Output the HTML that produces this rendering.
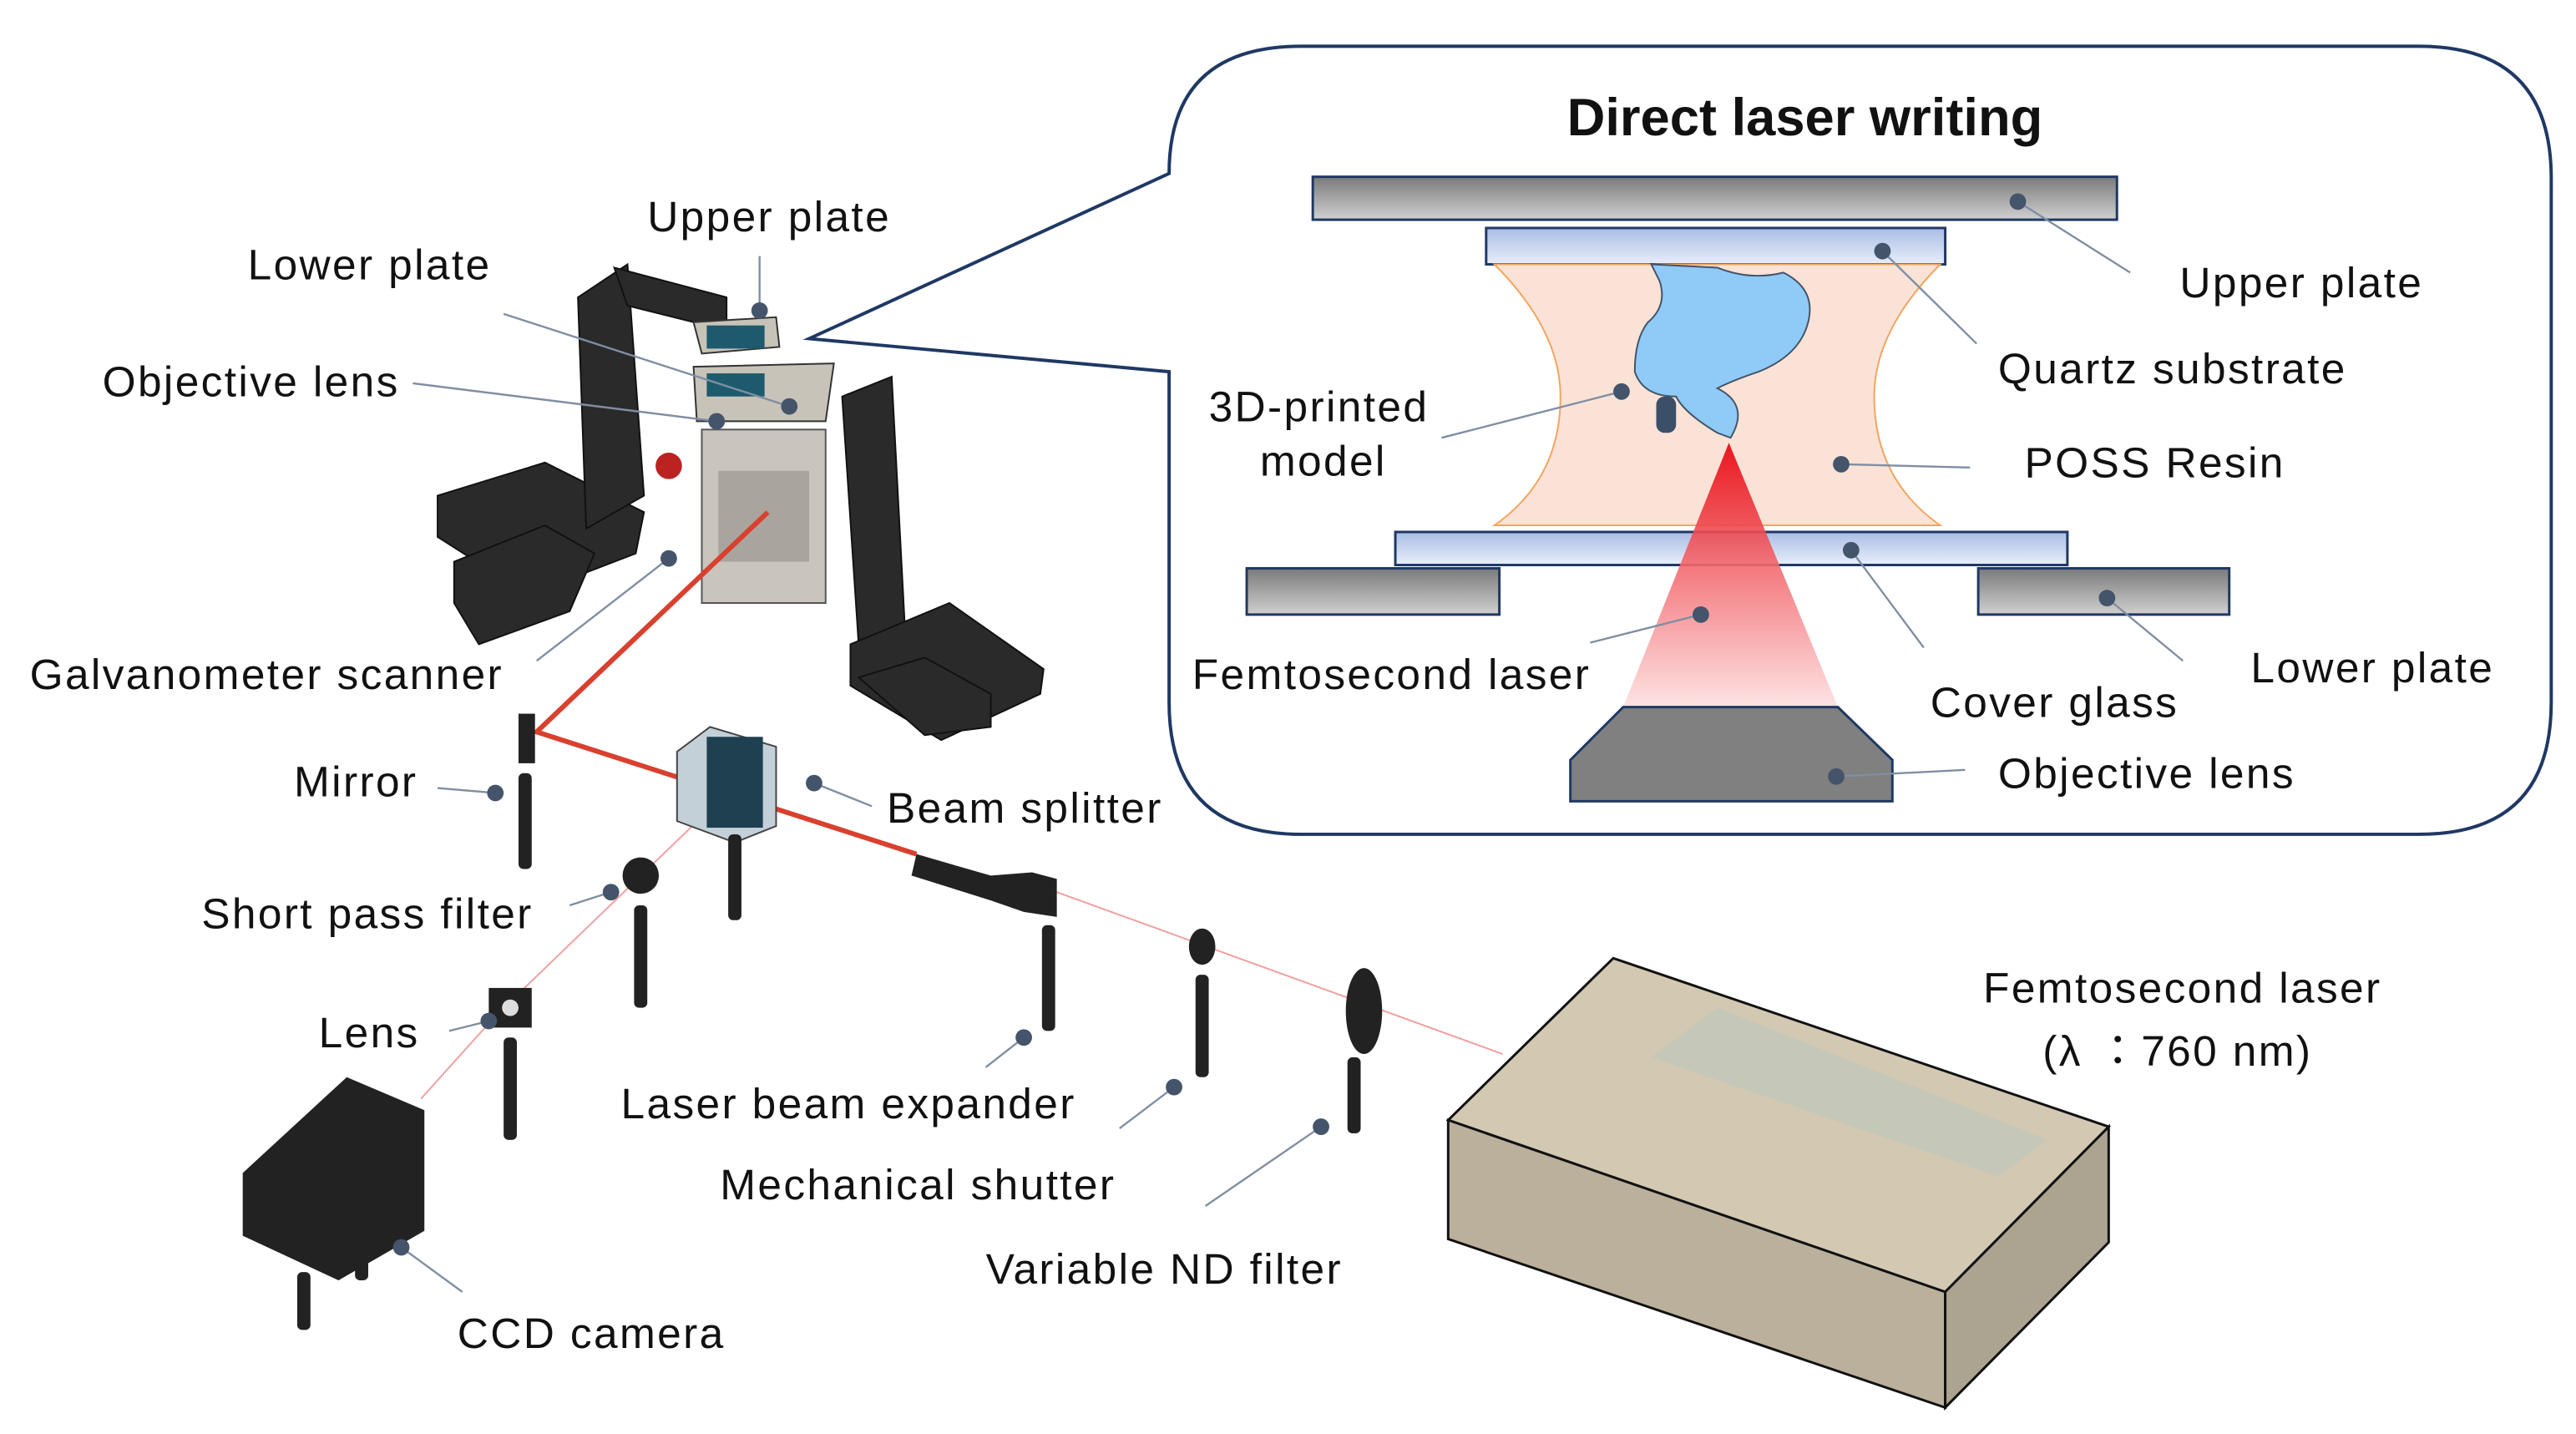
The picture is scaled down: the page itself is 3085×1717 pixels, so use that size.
<!DOCTYPE html>
<html><head><meta charset="utf-8"><style>
html,body{margin:0;padding:0;background:#fff;}
svg{display:block;}
text{font-family:"Liberation Sans","Noto Sans CJK JP",sans-serif;font-size:26px;letter-spacing:1.2px;fill:#111;}
</style></head><body>
<svg width="3085" height="1717" viewBox="0 0 1560 868" preserveAspectRatio="none" xmlns="http://www.w3.org/2000/svg">
<defs>
<linearGradient id="gp" x1="0" y1="0" x2="0" y2="1"><stop offset="0" stop-color="#7a7a7a"/><stop offset="1" stop-color="#d0d0d0"/></linearGradient>
<linearGradient id="gb" x1="0" y1="0" x2="0" y2="1"><stop offset="0" stop-color="#a9bde4"/><stop offset="1" stop-color="#e8eefa"/></linearGradient>
<linearGradient id="gl" x1="0" y1="0" x2="0" y2="1"><stop offset="0" stop-color="#e8000a"/><stop offset="1" stop-color="#fde0e0"/></linearGradient>
</defs>
<path d="M788,28 H1465 Q1545,28 1545,108 V425 Q1545,505 1465,505 H788 Q708,505 708,425 V225 L490,205 L708,105 Q708,28 788,28 Z" fill="#fff" stroke="#1f3864" stroke-width="2"/>
<text x="1093" y="82" text-anchor="middle" style="font-size:32px;font-weight:bold;letter-spacing:0">Direct laser writing</text>
<rect x="795" y="107" width="487" height="26" fill="url(#gp)" stroke="#1f3864" stroke-width="1.5"/>
<rect x="900" y="138" width="278" height="22" fill="url(#gb)" stroke="#1f3864" stroke-width="1.5"/>
<path d="M905,160 Q945,200 945,240 Q945,290 905,318 H1175 Q1135,290 1135,240 Q1135,200 1175,160 Z" fill="#fae3d6" stroke="#f4a460" stroke-width="1"/>
<path d="M1000,160 L1040,162 Q1060,170 1080,165 Q1100,175 1095,195 Q1090,215 1065,225 Q1050,230 1040,235 Q1060,245 1048,265 L1040,262 Q1020,250 1015,240 Q995,240 990,225 Q990,205 998,195 Q1010,185 1005,170 Z" fill="#8fcbf6" stroke="#44546a" stroke-width="1"/>
<rect x="1003" y="240" width="12" height="22" rx="5" fill="#3b5068"/>
<rect x="845" y="322" width="407" height="20" fill="url(#gb)" stroke="#1f3864" stroke-width="1.5"/>
<rect x="755" y="344" width="153" height="28" fill="url(#gp)" stroke="#1f3864" stroke-width="1.5"/>
<rect x="1198" y="344" width="152" height="28" fill="url(#gp)" stroke="#1f3864" stroke-width="1.5"/>
<polygon points="1047,268 1113,428 983,428" fill="url(#gl)" opacity="0.9"/>
<polygon points="983,428 1113,428 1146,460 1146,485 951,485 951,460" fill="#808080" stroke="#1f3864" stroke-width="1.5"/>
<g stroke="#7f8ea3" stroke-width="1.2">
<line x1="1222" y1="122" x2="1290" y2="165"/><line x1="1140" y1="152" x2="1197" y2="208"/>
<line x1="982" y1="237" x2="873" y2="265"/><line x1="1115" y1="281" x2="1193" y2="283"/>
<line x1="1030" y1="372" x2="963" y2="389"/><line x1="1121" y1="333" x2="1165" y2="392"/>
<line x1="1276" y1="362" x2="1322" y2="400"/><line x1="1112" y1="470" x2="1190" y2="466"/>
</g>
<g fill="#44546a">
<circle cx="1222" cy="122" r="5"/><circle cx="1140" cy="152" r="5"/><circle cx="982" cy="237" r="5"/>
<circle cx="1115" cy="281" r="5"/><circle cx="1030" cy="372" r="5"/><circle cx="1121" cy="333" r="5"/>
<circle cx="1276" cy="362" r="5"/><circle cx="1112" cy="470" r="5"/>
</g>
<text x="1320" y="180">Upper plate</text>
<text x="1210" y="232">Quartz substrate</text>
<text x="732" y="255">3D-printed</text>
<text x="763" y="288">model</text>
<text x="1226" y="289">POSS Resin</text>
<text x="722" y="417">Femtosecond laser</text>
<text x="1169" y="434">Cover glass</text>
<text x="1363" y="413">Lower plate</text>
<text x="1210" y="477">Objective lens</text>

<g fill="#2a2a2a" stroke="#111" stroke-width="1">
<polygon points="265,300 330,280 390,310 385,335 320,360 265,325"/>
<polygon points="275,340 330,318 360,335 345,370 290,390 275,365"/>
<polygon points="350,180 380,160 390,300 355,320"/>
<polygon points="372,162 440,180 440,200 380,185"/>
<polygon points="510,240 540,228 548,380 520,390"/>
<polygon points="515,390 575,365 632,405 630,420 570,448 515,415"/>
<polygon points="520,410 560,398 600,420 600,440 560,445"/>
</g>
<rect x="425" y="260" width="75" height="105" fill="#c9c5bd" stroke="#555"/>
<rect x="435" y="285" width="55" height="55" fill="#a9a59e"/>
<circle cx="405" cy="282" r="8" fill="#b22"/>
<polygon points="420,195 470,192 472,210 425,214" fill="#c8c3b8" stroke="#333"/>
<rect x="428" y="197" width="35" height="14" fill="#1e5a6e"/>
<polygon points="420,222 505,220 500,255 422,255" fill="#c8c3b8" stroke="#333"/>
<rect x="428" y="226" width="35" height="14" fill="#1e5a6e"/>
<polyline points="465,310 325,443 555,517" fill="none" stroke="#d9402e" stroke-width="3"/>
<line x1="640" y1="540" x2="910" y2="638" stroke="#f0a0a0" stroke-width="1"/>
<polyline points="440,480 300,615 255,665" fill="none" stroke="#f0a0a0" stroke-width="1"/>
<polygon points="410,455 430,440 470,452 470,500 445,510 410,497" fill="#c4d0d8" stroke="#444" stroke-width="1"/>
<rect x="428" y="446" width="34" height="55" fill="#1e4050"/>
<g fill="#222">
<rect x="314" y="432" width="10" height="30"/><rect x="314" y="468" width="8" height="58" rx="3"/>
<rect x="441" y="505" width="8" height="52" rx="3"/>
<circle cx="388" cy="530" r="11"/><rect x="384" y="548" width="8" height="62" rx="3"/>
<rect x="296" y="598" width="26" height="24"/><rect x="305" y="628" width="8" height="62" rx="3"/>
<polygon points="555,517 600,530 625,528 640,532 640,555 620,552 600,545 552,530"/>
<rect x="631" y="560" width="8" height="64" rx="3"/>
<ellipse cx="728" cy="573" rx="8" ry="11"/><rect x="724" y="590" width="8" height="62" rx="3"/>
<ellipse cx="826" cy="612" rx="11" ry="26"/><rect x="816" y="640" width="8" height="46" rx="3"/>
<polygon points="147,710 210,652 257,672 257,745 205,775 147,748"/>
<rect x="180" y="770" width="8" height="35" rx="3"/><rect x="215" y="760" width="8" height="15" rx="3"/>
</g>
<circle cx="309" cy="610" r="5" fill="#ddd"/>
<polygon points="877,678 977,580 1277,682 1178,782" fill="#d3c8b2" stroke="#111" stroke-width="1.5"/>
<polygon points="1000,640 1040,610 1240,690 1210,712" fill="#c5c7b8"/>
<polygon points="877,678 1178,782 1178,852 877,750" fill="#bab09c" stroke="#111" stroke-width="1.5"/>
<polygon points="1178,782 1277,682 1277,752 1178,852" fill="#aca390" stroke="#111" stroke-width="1.5"/>
<g stroke="#7f8ea3" stroke-width="1.2">
<line x1="460" y1="188" x2="460" y2="155"/><line x1="478" y1="246" x2="305" y2="190"/>
<line x1="434" y1="255" x2="250" y2="232"/><line x1="405" y1="338" x2="325" y2="400"/>
<line x1="300" y1="480" x2="265" y2="477"/><line x1="493" y1="474" x2="528" y2="488"/>
<line x1="370" y1="540" x2="345" y2="548"/><line x1="296" y1="618" x2="272" y2="624"/>
<line x1="620" y1="628" x2="597" y2="646"/><line x1="711" y1="658" x2="678" y2="683"/>
<line x1="800" y1="682" x2="730" y2="730"/><line x1="243" y1="755" x2="280" y2="782"/>
</g>
<g fill="#44546a">
<circle cx="460" cy="188" r="5"/><circle cx="478" cy="246" r="5"/><circle cx="434" cy="255" r="5"/>
<circle cx="405" cy="338" r="5"/><circle cx="300" cy="480" r="5"/><circle cx="493" cy="474" r="5"/>
<circle cx="370" cy="540" r="5"/><circle cx="296" cy="618" r="5"/><circle cx="620" cy="628" r="5"/>
<circle cx="711" cy="658" r="5"/><circle cx="800" cy="682" r="5"/><circle cx="243" cy="755" r="5"/>
</g>
<text x="392" y="140">Upper plate</text>
<text x="150" y="169">Lower plate</text>
<text x="62" y="240">Objective lens</text>
<text x="18" y="417">Galvanometer scanner</text>
<text x="178" y="482">Mirror</text>
<text x="537" y="498">Beam splitter</text>
<text x="122" y="562">Short pass filter</text>
<text x="193" y="634">Lens</text>
<text x="376" y="677">Laser beam expander</text>
<text x="436" y="726">Mechanical shutter</text>
<text x="597" y="777">Variable ND filter</text>
<text x="277" y="816">CCD camera</text>
<text x="1201" y="607">Femtosecond laser</text>
<text x="1237" y="645">(λ ：760 nm)</text>
</svg>
</body></html>
